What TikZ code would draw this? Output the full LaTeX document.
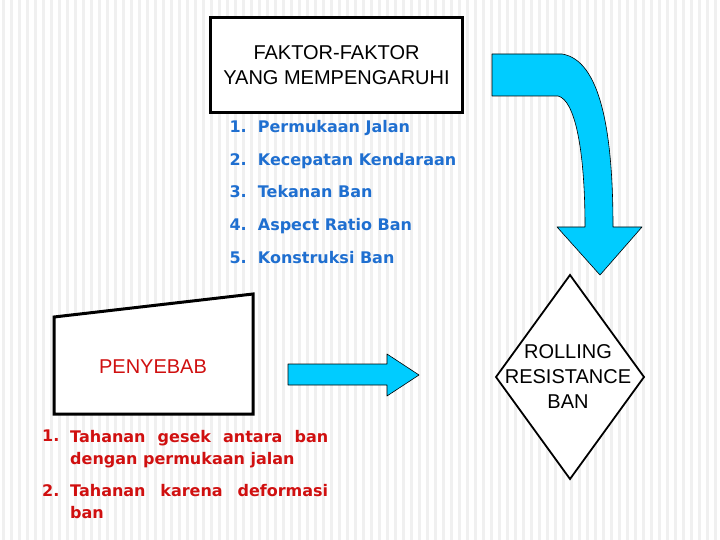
\documentclass[tikz,border=0pt]{standalone}
\usepackage{fontspec}
\setmainfont{DejaVu Sans}
\newfontfamily\arialfont{Liberation Sans}
\usetikzlibrary{positioning,shapes.geometric}
\definecolor{skyfill}{HTML}{00CCFF}
\definecolor{listblue}{HTML}{1F6FD0}
\definecolor{causered}{HTML}{D01010}
\begin{document}
\begin{tikzpicture}[x=1pt,y=-1pt,
    blue arrow/.style={draw=black, fill=skyfill, line width=0.6pt, line join=round},
    faktor item/.style={anchor=west, text=listblue, font=\bfseries\fontsize{16}{19}\selectfont},
    cause item/.style={anchor=north west, inner sep=0pt, text=causered, font=\bfseries\fontsize{16}{22}\selectfont}]
        \useasboundingbox (0,0) rectangle (720,540);
        % striped background
        \foreach \x in {2,10,...,718}
            \fill[black!6] (\x,0) rectangle (\x+2.5,540);

        \node [draw, line width=3pt, minimum width=252pt, minimum height=95pt, fill=white, align=center,
            font=\arialfont\fontsize{20}{25}\selectfont] (faktor) at (336.5,65.5) {FAKTOR-FAKTOR\\YANG MEMPENGARUHI};

        \foreach \n/\txt [count=\i from 0] in {1/Permukaan Jalan, 2/Kecepatan Kendaraan, 3/Tekanan Ban, 4/Aspect Ratio Ban, 5/Konstruksi Ban}
            \node [faktor item, anchor=base west] (f\n) at (226,133+32.5*\i) {\n.\ \ \txt};

        % bent arrow
        \draw[blue arrow] (492,54) -- (562,54) .. controls (600,60) and (613,130) .. (613,227)
            -- (642,227) -- (600,275) -- (557,227) -- (585,227)
            .. controls (585,150) and (575,100) .. (558,96) -- (492,96) -- cycle;

        % diamond drawn as a path, text on top
        \draw[line width=1.8pt, fill=white, line join=miter] (570,275) -- (644,377) -- (570,479) -- (496,377) -- cycle;
        \node [align=center, font=\arialfont\fontsize{20}{25}\selectfont] (rolling) at (568,377)
            {ROLLING\\RESISTANCE\\BAN};

        % penyebab box
        \draw[line width=3pt, fill=white] (54,317) coordinate (pa) -- (253,294) -- (253,414) -- (54,414) -- cycle;
        \node [text=causered, font=\arialfont\fontsize{20}{24}\selectfont] (penyebab) at (153,367) {PENYEBAB};

        \draw[blue arrow] (288,364) -- (387,364) -- (387,354) -- (419,375) -- (387,396) -- (387,385) -- (288,385) -- cycle;

        \node [cause item] (c1n) at (42,430) {1.};
        \node [cause item, text width=258pt, align=justify] (c1) at (70,430)
            {Tahanan gesek antara ban dengan permukaan jalan};
        \node [cause item] (c2n) at (42,484) {2.};
        \node [cause item, text width=258pt, align=justify] (c2) at (70,484)
            {Tahanan karena deformasi ban};
    \end{tikzpicture}
\end{document}
